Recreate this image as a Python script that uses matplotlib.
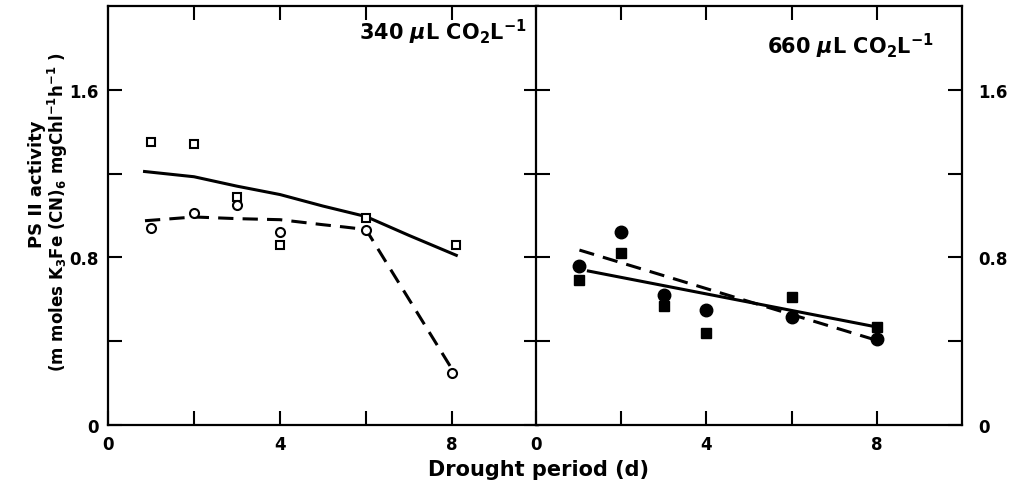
import matplotlib
matplotlib.use("Agg")
import matplotlib.pyplot as plt

plt.rcParams['font.family'] = ['DejaVu Sans']
plt.rcParams['font.weight'] = 'bold'
plt.rcParams['mathtext.fontset'] = 'custom'
plt.rcParams['mathtext.rm'] = 'DejaVu Sans:bold'
plt.rcParams['mathtext.it'] = 'DejaVu Sans:bold:italic'
plt.rcParams['mathtext.bf'] = 'DejaVu Sans:bold'

# 340 uL CO2 panel (open symbols)
ambient_sq_x = [1, 2, 3, 4, 6, 8.1]
ambient_sq_y = [1.35, 1.34, 1.09, 0.86, 0.99, 0.86]
ambient_ci_x = [1, 2, 3, 4, 6, 8]
ambient_ci_y = [0.94, 1.01, 1.05, 0.92, 0.93, 0.25]
ambient_solid_x = [0.85, 2, 3, 4, 5, 6, 7, 8.1]
ambient_solid_y = [1.21, 1.185, 1.14, 1.10, 1.045, 0.995, 0.905, 0.81]
ambient_dash_x = [0.86, 1.5, 2, 3, 4, 5, 5.5, 6, 8.05]
ambient_dash_y = [0.975, 0.985, 0.993, 0.985, 0.98, 0.956, 0.945, 0.933, 0.25]

# 660 uL CO2 panel (filled symbols)
elevated_x = [1, 2, 3, 4, 6, 8]
elevated_ci_y = [0.76, 0.92, 0.62, 0.55, 0.515, 0.41]
elevated_sq_y = [0.69, 0.82, 0.57, 0.44, 0.61, 0.47]
elevated_solid_x = [1.23, 8.02]
elevated_solid_y = [0.735, 0.467]
elevated_dash_x = [1.02, 8.0]
elevated_dash_y = [0.835, 0.404]

y_ticks = [0, 0.4, 0.8, 1.2, 1.6]
y_labels = ['0', '', '0.8', '', '1.6']
x_ticks = [0, 2, 4, 6, 8]
x_labels = ['0', '', '4', '', '8']

W, H = 1012, 489
fig = plt.figure(figsize=(W / 100, H / 100), dpi=100)
ax1 = fig.add_axes([108 / W, 63 / H, 430 / W, 419 / H])
ax2 = fig.add_axes([536 / W, 63 / H, 426 / W, 419 / H])

dash = (0, (5, 3))
for ax in (ax1, ax2):
    ax.set_xlim(0, 10)
    ax.set_ylim(0, 2.0)
    ax.set_xticks(x_ticks)
    ax.set_xticklabels(x_labels)
    ax.set_yticks(y_ticks)
    ax.set_yticklabels(y_labels)
    ax.tick_params(direction='in', length=10, width=1.5, top=True, right=True,
                   labelsize=12, pad=7)
    for s in ax.spines.values():
        s.set_linewidth(1.6)

ax1.tick_params(labelleft=True, labelright=False)
ax2.tick_params(labelleft=False, labelright=True, axis='y', pad=12)

ax1.plot(ambient_solid_x, ambient_solid_y, color='black', lw=2.2)
ax1.plot(ambient_dash_x, ambient_dash_y, color='black', lw=2.2, linestyle=dash)
ax1.plot(ambient_sq_x, ambient_sq_y, 's', mfc='white', mec='black', mew=1.5, ms=6)
ax1.plot(ambient_ci_x, ambient_ci_y, 'o', mfc='white', mec='black', mew=1.5, ms=6.5)

ax2.plot(elevated_solid_x, elevated_solid_y, color='black', lw=2.2)
ax2.plot(elevated_dash_x, elevated_dash_y, color='black', lw=2.2, linestyle=dash)
ax2.plot(elevated_x, elevated_sq_y, 's', color='black', ms=7)
ax2.plot(elevated_x, elevated_ci_y, 'o', color='black', ms=9)

ax1.text(0.975, 0.975, r"340 $\mu$L CO$_2$L$^{-1}$", transform=ax1.transAxes,
         ha='right', va='top', fontsize=15)
ax2.text(0.935, 0.94, r"660 $\mu$L CO$_2$L$^{-1}$", transform=ax2.transAxes,
         ha='right', va='top', fontsize=15)

fig.text(538 / W, 1 - 470 / H, "Drought period (d)", ha='center', va='center',
         fontsize=15)
fig.text(37 / W, 1 - 184 / H, "PS II activity", rotation=90, ha='center',
         va='center', fontsize=13)
fig.text(58 / W, 1 - 212 / H,
         r"(m moles K$_3$Fe (CN)$_6$ mgChl$^{-1}$h$^{-1}$ )", rotation=90,
         ha='center', va='center', fontsize=12)

fig.savefig("out.png", dpi=100)
